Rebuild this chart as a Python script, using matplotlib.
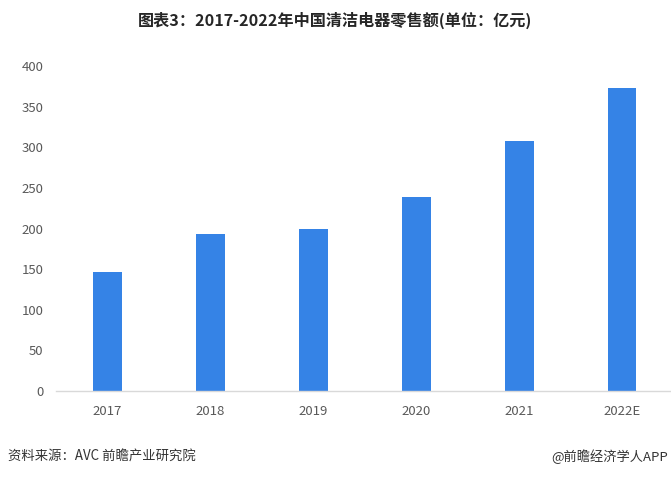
import matplotlib
matplotlib.use("Agg")
import matplotlib.pyplot as plt

plt.rcParams['font.family'] = ['Noto Sans CJK SC', 'DejaVu Sans']

years = ["2017", "2018", "2019", "2020", "2021", "2022E"]
sales = [147, 193, 200, 239, 308, 373]
yticks = [0, 50, 100, 150, 200, 250, 300, 350, 400]

title = "图表3：2017-2022年中国清洁电器零售额(单位：亿元)"
source = "资料来源：AVC 前瞻产业研究院"
credit = "@前瞻经济学人APP"

W, H = 671, 478
fig = plt.figure(figsize=(W / 100, H / 100), dpi=100)
ax = fig.add_axes([56 / W, 87 / H, (673.5 - 56) / W, 325 / H])

x = range(len(years))
ax.bar(x, sales, width=0.28, color="#3583e6", zorder=2)

ax.set_xlim(-0.5, len(years) - 0.5)
ax.set_ylim(0, 400)
ax.set_yticks(yticks)
ax.set_xticks(list(x))
ax.set_xticklabels(years)

for s in ["top", "right", "left"]:
    ax.spines[s].set_visible(False)
ax.spines["bottom"].set_color("#d9d9d9")
ax.spines["bottom"].set_linewidth(1.0)
ax.tick_params(axis="both", length=0, labelsize=9.5, labelcolor="#595959")
ax.tick_params(axis="y", pad=9)
ax.tick_params(axis="x", pad=10)

fig.text(335 / W, 1 - 20 / H, title, ha="center", va="center",
         fontsize=11.6, fontweight="bold", color="#262626")
fig.text(8 / W, 1 - 457 / H, source, ha="left", va="center",
         fontsize=9.6, color="#333333")
fig.text(668 / W, 1 - 457 / H, credit, ha="right", va="center",
         fontsize=9.5, color="#333333")

fig.savefig("out.png", dpi=100)
